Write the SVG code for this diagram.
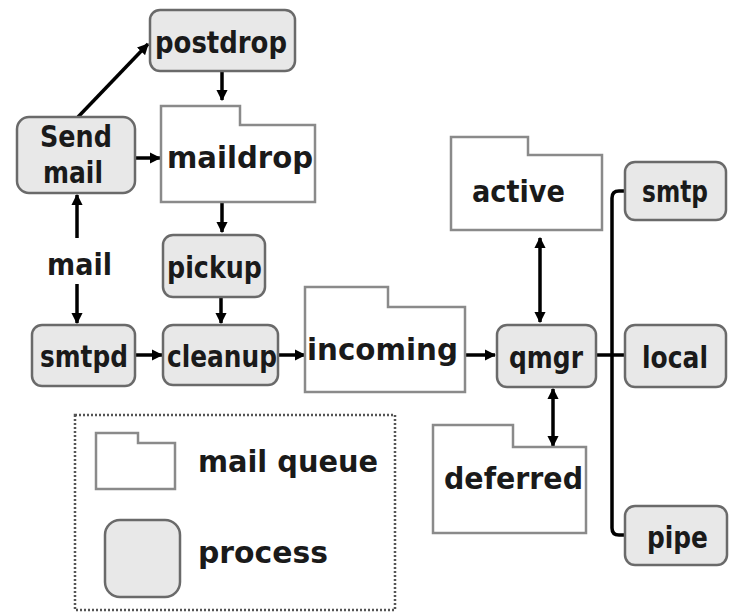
<svg xmlns="http://www.w3.org/2000/svg" width="739" height="615" viewBox="0 0 739 615">
<defs>
<style>
.proc{fill:#e8e8e8;stroke:#6a6a6a;stroke-width:2.5}
.q{fill:#fff;stroke:#8a8a8a;stroke-width:2.5}
.t{font-family:"DejaVu Sans",sans-serif;font-weight:bold;font-size:30px;fill:#1a1a1a;text-anchor:middle}
.tl{font-family:"DejaVu Sans",sans-serif;font-weight:bold;font-size:30px;fill:#1a1a1a}
.c{fill:none;stroke:#000;stroke-width:3.5}
.a{marker-end:url(#ah)}
.b{marker-start:url(#ah);marker-end:url(#ah)}
</style>
<marker id="ah" viewBox="0 0 10 10" refX="9" refY="5" markerWidth="3.2" markerHeight="3.2" orient="auto-start-reverse" markerUnits="strokeWidth">
<path d="M0,0 L10,5 L0,10 z" fill="#000"/>
</marker>
</defs>
<rect width="739" height="615" fill="#fff"/>
<g id="connectors">
<path class="c a" d="M78,117 L148,44"/>
<path class="c a" d="M222,71 V100"/>
<path class="c a" d="M135,158 H160"/>
<path class="c a" d="M222,203 V232"/>
<path class="c a" d="M77,238 V195"/>
<path class="c a" d="M77,284 V323"/>
<path class="c a" d="M221,297 V323"/>
<path class="c a" d="M135,355 H162"/>
<path class="c a" d="M278,355 H305"/>
<path class="c a" d="M465,355 H495"/>
<path class="c b" d="M540,238 V322"/>
<path class="c b" d="M553,389 V446"/>
<path class="c" d="M596,355 H625"/>
<path class="c" d="M625,191 H619 Q612,191 612,198 V528 Q612,535 619,535 H625"/>
</g>
<g id="postdrop"><rect class="proc" x="150" y="10" width="145" height="61" rx="10"/><text class="t" x="221" y="53" textLength="132" lengthAdjust="spacingAndGlyphs">postdrop</text></g>
<g id="sendmail"><rect class="proc" x="17" y="117" width="118" height="76" rx="12"/><text class="t" x="76" y="147" textLength="72" lengthAdjust="spacingAndGlyphs">Send</text><text class="t" x="73" y="183" textLength="60" lengthAdjust="spacingAndGlyphs">mail</text></g>
<g id="maildrop"><path class="q" d="M161,106 H240 V125 H315 V202 H161 Z"/><text class="t" x="240" y="168" textLength="146" lengthAdjust="spacingAndGlyphs">maildrop</text></g>
<g id="mail"><text class="t" x="79.500" y="275" textLength="65" lengthAdjust="spacingAndGlyphs">mail</text></g>
<g id="pickup"><rect class="proc" x="163" y="235" width="102" height="62" rx="10"/><text class="t" x="214.500" y="278" textLength="95" lengthAdjust="spacingAndGlyphs">pickup</text></g>
<g id="smtpd"><rect class="proc" x="32" y="325" width="103" height="61" rx="10"/><text class="t" x="84" y="367" textLength="88" lengthAdjust="spacingAndGlyphs">smtpd</text></g>
<g id="cleanup"><rect class="proc" x="163" y="325" width="115" height="60" rx="10"/><text class="t" x="222" y="367" textLength="110" lengthAdjust="spacingAndGlyphs">cleanup</text></g>
<g id="incoming"><path class="q" d="M305,287 H388 V307 H465 V392 H305 Z"/><text class="t" x="382.500" y="360" textLength="151" lengthAdjust="spacingAndGlyphs">incoming</text></g>
<g id="qmgr"><rect class="proc" x="497" y="325" width="99" height="62" rx="10"/><text class="t" x="546" y="368" textLength="74" lengthAdjust="spacingAndGlyphs">qmgr</text></g>
<g id="active"><path class="q" d="M451,137 H528 V155 H602 V230 H451 Z"/><text class="t" x="518.500" y="202" textLength="93" lengthAdjust="spacingAndGlyphs">active</text></g>
<g id="deferred"><path class="q" d="M433,425 H513 V447 H586 V533 H433 Z"/><text class="t" x="513.500" y="489" textLength="139" lengthAdjust="spacingAndGlyphs">deferred</text></g>
<g id="smtp"><rect class="proc" x="625" y="162" width="101" height="58" rx="10"/><text class="t" x="675" y="202" textLength="66" lengthAdjust="spacingAndGlyphs">smtp</text></g>
<g id="local"><rect class="proc" x="625" y="325" width="101" height="62" rx="10"/><text class="t" x="675" y="368" textLength="66" lengthAdjust="spacingAndGlyphs">local</text></g>
<g id="pipe"><rect class="proc" x="625" y="506" width="102" height="59" rx="10"/><text class="t" x="677.500" y="548" textLength="61" lengthAdjust="spacingAndGlyphs">pipe</text></g>
<g id="legend">
<rect x="75" y="415" width="320" height="195" fill="none" stroke="#555" stroke-width="2.5" stroke-dasharray="2,2"/>
<path class="q" d="M96,433 H138 V443 H175 V489 H96 Z" stroke-width="2"/>
<text class="tl" x="198" y="472" textLength="180" lengthAdjust="spacingAndGlyphs">mail queue</text>
<rect class="proc" x="105" y="520" width="75" height="77" rx="15"/>
<text class="tl" x="198" y="563" textLength="130" lengthAdjust="spacingAndGlyphs">process</text>
</g>
</svg>
